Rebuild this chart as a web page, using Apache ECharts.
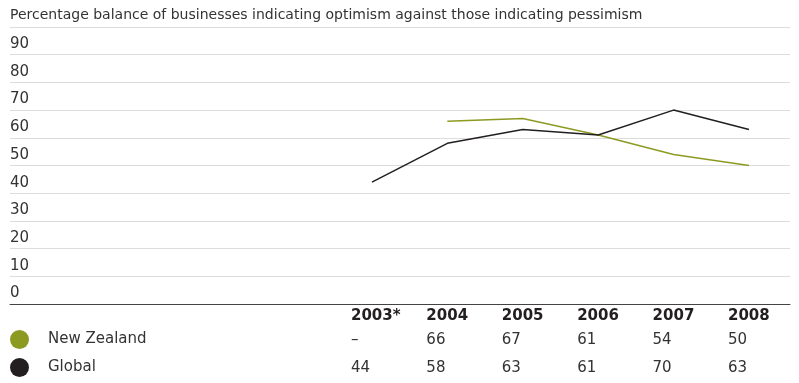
<!DOCTYPE html>
<html>
<head>
<meta charset="utf-8">
<script src="https://cdn.jsdelivr.net/npm/echarts@6/dist/echarts.min.js"></script>
<style>
  html, body { margin: 0; padding: 0; background: #fff; }
  #chart { width: 799px; height: 383px; }
</style>
</head>
<body>
<div id="chart"></div>
<script>
// Survey years and their table headings
const yearLabels = ['2003*', '2004', '2005', '2006', '2007', '2008'];
const years = [2003, 2004, 2005, 2006, 2007, 2008];

// Net balance of optimism (%), by year
const nzValues = [null, 66, 67, 61, 54, 50];
const globalValues = [44, 58, 63, 61, 70, 63];

// Value-axis labels
const yTickLabels = [0, 10, 20, 30, 40, 50, 60, 70, 80, 90];

const titleText = 'Percentage balance of businesses indicating optimism against those indicating pessimism';
const seriesNames = ['New Zealand', 'Global'];
const colors = ['#8d9a22', '#231f20'];
const fontFamily = '"DejaVu Sans", sans-serif';

const chart = echarts.init(document.getElementById('chart'), null, { renderer: 'canvas' });

function pairs(vals) {
  return years.map((y, i) => [y, vals[i]]);
}

chart.setOption({
  animation: false,
  textStyle: { fontFamily: fontFamily },
  title: {
    text: titleText,
    left: 5,
    top: 3,
    textStyle: { fontSize: 14, fontWeight: 'normal', color: '#333', fontFamily: fontFamily }
  },
  grid: { left: 10, right: 9, top: 27, bottom: 79 },
  legend: {
    orient: 'vertical',
    left: 10,
    top: 330,
    padding: 0,
    icon: 'circle',
    itemWidth: 19,
    itemHeight: 19,
    itemGap: 9,
    data: seriesNames,
    textStyle: { fontSize: 15, color: '#333', padding: [0, 0, 0, 14], fontFamily: fontFamily }
  },
  xAxis: {
    type: 'value',
    min: 1998.2,
    max: 2008.544,
    axisLine: { show: true, lineStyle: { color: '#444', width: 1 } },
    axisTick: { show: false },
    axisLabel: { show: false },
    splitLine: { show: false }
  },
  yAxis: {
    type: 'value',
    min: 0,
    max: 100,
    interval: 10,
    axisLine: { show: false },
    axisTick: { show: false },
    axisLabel: {
      inside: true,
      margin: 0,
      verticalAlign: 'bottom',
      padding: [0, 0, 3, 0],
      fontSize: 15,
      color: '#333',
      formatter: v => (yTickLabels.indexOf(v) >= 0 ? String(v) : '')
    },
    splitLine: { show: true, lineStyle: { color: '#dcdcdc', width: 1 } }
  },
  series: [
    {
      name: seriesNames[0],
      type: 'line',
      data: pairs(nzValues),
      showSymbol: false,
      connectNulls: false,
      color: colors[0],
      lineStyle: { color: colors[0], width: 1.5 }
    },
    {
      name: seriesNames[1],
      type: 'line',
      data: pairs(globalValues),
      showSymbol: false,
      color: colors[1],
      lineStyle: { color: colors[1], width: 1.5 }
    }
  ]
});

// Data table under the plot, columns placed on the year positions of the x axis
const headerY = 318, nzRowY = 342, globalRowY = 370, colOffset = -21;
const tableItems = [];
years.forEach((yr, i) => {
  const x = chart.convertToPixel({ xAxisIndex: 0 }, yr) + colOffset;
  tableItems.push({
    type: 'text', left: x, top: headerY - 9,
    style: { text: yearLabels[i], fill: '#231f20', font: 'bold 15px ' + fontFamily }
  });
  tableItems.push({
    type: 'text', left: x, top: nzRowY - 9,
    style: { text: nzValues[i] == null ? '–' : String(nzValues[i]), fill: '#333', font: '15px ' + fontFamily }
  });
  tableItems.push({
    type: 'text', left: x, top: globalRowY - 9,
    style: { text: String(globalValues[i]), fill: '#333', font: '15px ' + fontFamily }
  });
});
chart.setOption({ graphic: tableItems });
</script>
</body>
</html>
